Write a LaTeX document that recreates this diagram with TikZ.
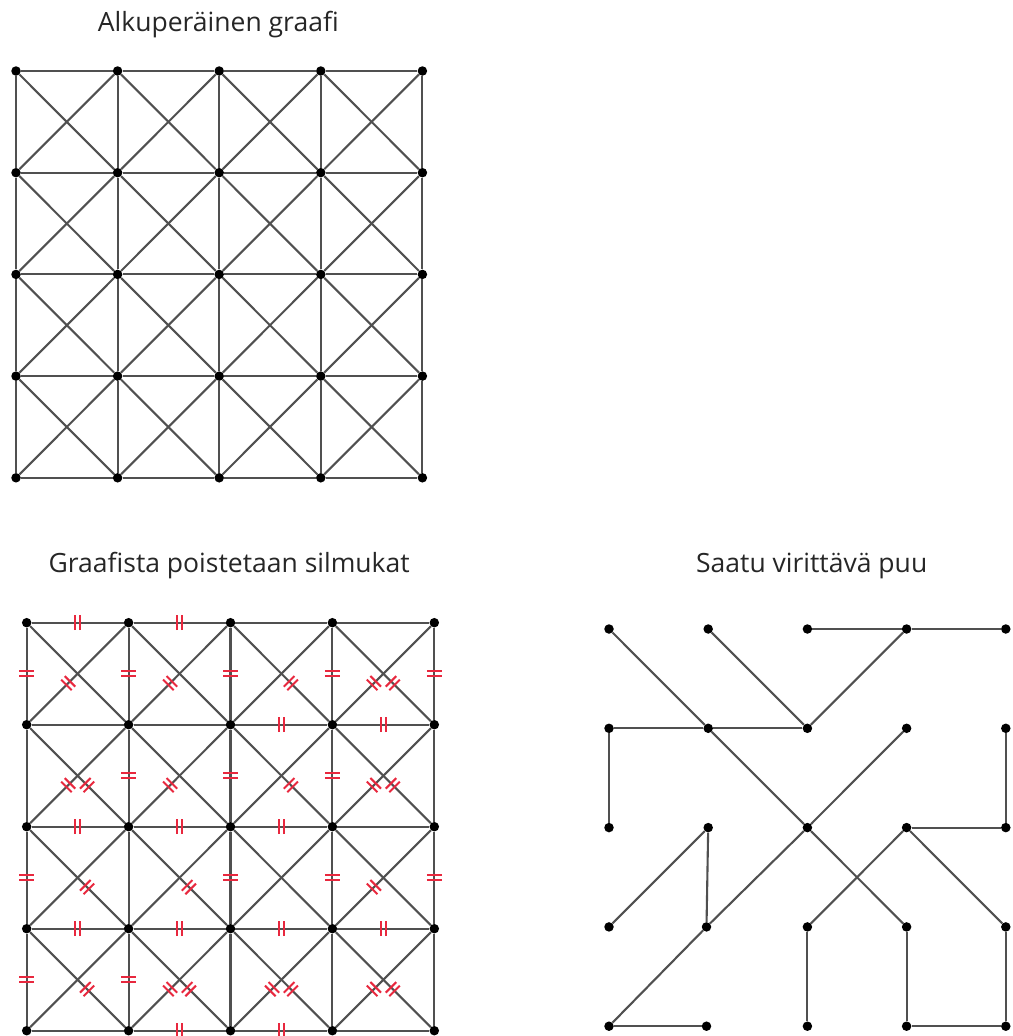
\documentclass[tikz,border=0pt]{standalone}
\usepackage{fontspec}
\setmainfont{Open Sans}
\usetikzlibrary{decorations.markings}
\definecolor{edgegray}{RGB}{80,80,80}
\definecolor{cutred}{RGB}{232,40,62}
\tikzset{
  vtx/.style={circle,fill=black,draw=none,inner sep=0pt,minimum size=9.5pt},
  link/.style={draw=edgegray,line width=2.1pt},
  removed/.style={postaction={decorate,decoration={markings,
      mark=at position #1 with {\draw[cutred,line width=2pt,line cap=butt]
        (-2.5pt,-7.5pt)--(-2.5pt,7.5pt) (2.5pt,-7.5pt)--(2.5pt,7.5pt);}}}},
  removed/.default=0.5,
  dcut/.style={removed=0.6},
  ttl/.style={font=\fontsize{26.5}{30}\selectfont,text=black!85,anchor=base,inner sep=0pt}
}
\begin{document}
\begin{tikzpicture}[x=1pt,y=-1pt]
\useasboundingbox (0,0) rectangle (1012,1036);

% ---------- titles ----------
\node[ttl] (t1) at (218.3,31) {Alkuperäinen graafi};
\node[ttl] (t2) at (229.2,572) {Graafista poistetaan silmukat};
\node[ttl] (t3) at (811.7,572) {Saatu virittävä puu};

% ---------- original graph ----------
\foreach \c in {0,...,4}
  \foreach \r in {0,...,4}
    \node[vtx] (a\c\r) at ({16+101.6*\c},{71+101.7*\r}) {};
\foreach \c in {0,...,3}
  \foreach \r in {0,...,3} {
    \pgfmathtruncatemacro\nc{\c+1}
    \pgfmathtruncatemacro\nr{\r+1}
    \draw[link] (a\c\r) -- (a\nc\nr);
    \draw[link] (a\nc\r) -- (a\c\nr);
  }
\foreach \c in {0,...,3}
  \foreach \r in {0,...,4} {
    \pgfmathtruncatemacro\nc{\c+1}
    \draw[link] (a\c\r) -- (a\nc\r);
  }
\foreach \c in {0,...,4}
  \foreach \r in {0,...,3} {
    \pgfmathtruncatemacro\nr{\r+1}
    \draw[link] (a\c\r) -- (a\c\nr);
  }

% ---------- graph with removed edges ----------
\foreach \c in {0,...,4}
  \foreach \r in {0,...,4}
    \node[vtx] (b\c\r) at ({26.7+101.9*\c},{622.7+102*\r}) {};
% horizontal edges
\draw[link,removed] (b00) -- (b10);
\draw[link,removed] (b10) -- (b20);
\draw[link] (b20) -- (b30);
\draw[link] (b30) -- (b40);
\draw[link] (b01) -- (b11);
\draw[link] (b11) -- (b21);
\draw[link,removed] (b21) -- (b31);
\draw[link,removed] (b31) -- (b41);
\draw[link,removed] (b02) -- (b12);
\draw[link,removed] (b12) -- (b22);
\draw[link,removed] (b22) -- (b32);
\draw[link] (b32) -- (b42);
\draw[link,removed] (b03) -- (b13);
\draw[link,removed] (b13) -- (b23);
\draw[link,removed] (b23) -- (b33);
\draw[link,removed] (b33) -- (b43);
\draw[link] (b04) -- (b14);
\draw[link,removed] (b14) -- (b24);
\draw[link,removed] (b24) -- (b34);
\draw[link] (b34) -- (b44);
% vertical edges
\draw[link,removed] (b00) -- (b01);
\draw[link,removed] (b10) -- (b11);
\draw[link,removed] (b20) -- (b21);
\draw[link,removed] (b30) -- (b31);
\draw[link,removed] (b40) -- (b41);
\draw[link] (b01) -- (b02);
\draw[link,removed] (b11) -- (b12);
\draw[link,removed] (b21) -- (b22);
\draw[link,removed] (b31) -- (b32);
\draw[link] (b41) -- (b42);
\draw[link,removed] (b02) -- (b03);
\draw[link] (b12) -- (b13);
\draw[link,removed] (b22) -- (b23);
\draw[link,removed] (b32) -- (b33);
\draw[link,removed] (b42) -- (b43);
\draw[link,removed] (b03) -- (b04);
\draw[link,removed] (b13) -- (b14);
\draw[link] (b23) -- (b24);
\draw[link] (b33) -- (b34);
\draw[link] (b43) -- (b44);
% diagonals: main (c,r)-(c+1,r+1), anti (c+1,r)-(c,r+1)
\draw[link] (b00) -- (b11);        \draw[link,dcut] (b10) -- (b01);
\draw[link] (b10) -- (b21);        \draw[link,dcut] (b20) -- (b11);
\draw[link,dcut] (b20) -- (b31);   \draw[link] (b30) -- (b21);
\draw[link,dcut] (b30) -- (b41);   \draw[link,dcut] (b40) -- (b31);
\draw[link,dcut] (b01) -- (b12);   \draw[link,dcut] (b11) -- (b02);
\draw[link] (b11) -- (b22);        \draw[link,dcut] (b21) -- (b12);
\draw[link,dcut] (b21) -- (b32);   \draw[link] (b31) -- (b22);
\draw[link,dcut] (b31) -- (b42);   \draw[link,dcut] (b41) -- (b32);
\draw[link,dcut] (b02) -- (b13);   \draw[link] (b12) -- (b03);
\draw[link,dcut] (b12) -- (b23);   \draw[link] (b22) -- (b13);
\draw[link] (b22) -- (b33);        \draw[link] (b32) -- (b23);
\draw[link] (b32) -- (b43);        \draw[link,dcut] (b42) -- (b33);
\draw[link,dcut] (b03) -- (b14);   \draw[link] (b13) -- (b04);
\draw[link,dcut] (b13) -- (b24);   \draw[link,dcut] (b23) -- (b14);
\draw[link,dcut] (b23) -- (b34);   \draw[link,dcut] (b33) -- (b24);
\draw[link,dcut] (b33) -- (b44);   \draw[link,dcut] (b43) -- (b34);

% ---------- spanning tree ----------
\foreach \c in {0,...,4}
  \foreach \r in {0,...,4} {
    \pgfmathsetmacro\dx{ifthenelse(and(\c==1,\r>2),-1.7,0)}
    \node[vtx] (t\c\r) at ({609+99.2*\c+\dx},{629+99.3*\r}) {};
  }
\draw[link] (t00) -- (t11);
\draw[link] (t11) -- (t22);
\draw[link] (t22) -- (t33);
\draw[link] (t10) -- (t21);
\draw[link] (t20) -- (t30);
\draw[link] (t30) -- (t40);
\draw[link] (t30) -- (t21);
\draw[link] (t01) -- (t11);
\draw[link] (t11) -- (t21);
\draw[link] (t01) -- (t02);
\draw[link] (t31) -- (t22);
\draw[link] (t22) -- (t13);
\draw[link] (t41) -- (t42);
\draw[link] (t12) -- (t03);
\draw[link] (t12) -- (t13);
\draw[link] (t13) -- (t04);
\draw[link] (t04) -- (t14);
\draw[link] (t32) -- (t42);
\draw[link] (t32) -- (t23);
\draw[link] (t32) -- (t43);
\draw[link] (t23) -- (t24);
\draw[link] (t33) -- (t34);
\draw[link] (t43) -- (t44);
\draw[link] (t34) -- (t44);
\end{tikzpicture}
\end{document}
